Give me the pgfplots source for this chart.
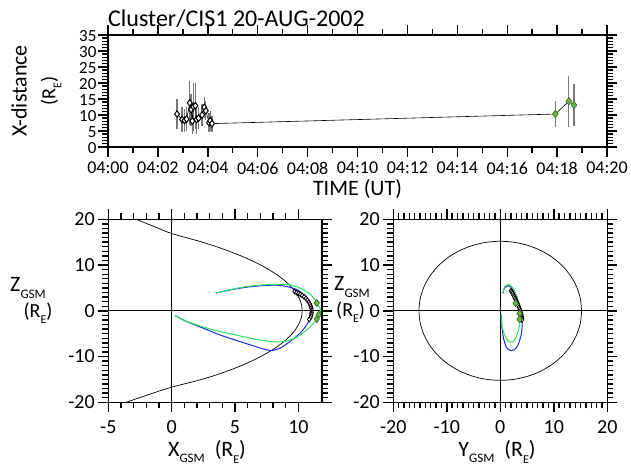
\documentclass[border=0pt]{standalone}
\usepackage{pgfplots}
\pgfplotsset{compat=1.18}
\usepackage{pgfplotstable}
\usepackage{fontspec}
\setmainfont{Carlito}
\definecolor{fblue}{RGB}{25,45,230}
\definecolor{fgreen}{RGB}{40,230,90}
\definecolor{mgreen}{RGB}{105,178,70}
\definecolor{mgreenedge}{RGB}{55,105,35}
\definecolor{ebar}{RGB}{120,120,120}
\newcommand{\gsm}{\raisebox{-0.28em}{\fontsize{13}{13}\selectfont GSM}}
\newcommand{\sE}{\raisebox{-0.3em}{\fontsize{12}{12}\selectfont E}}
\pgfplotsset{
  myax/.style={scale only axis, anchor=south west,
    axis line style={line width=1.6pt},
    tick align=outside,
    every tick/.style={black, line width=1.4pt},
    major tick length=10pt, minor tick length=6pt,
    xtick pos=both, ytick pos=both,
    xticklabel pos=lower, yticklabel pos=left},
}

\pgfplotstableread{
t v e
2.77 10.3 4.7
2.97 8.6 4.0
3.07 8.3 3.5
3.15 8.7 3.8
3.28 13.8 6.8
3.33 11.7 5.0
3.38 8.1 4.0
3.42 12.6 7.5
3.50 12.9 7.2
3.55 8.6 4.5
3.63 9.0 3.5
3.77 10.0 3.5
3.86 12.4 3.2
3.92 11.3 3.0
4.05 7.6 3.0
4.10 8.2 3.2
4.17 7.3 2.5
}\blackpts
\pgfplotstableread{
t v e
17.93 10.3 4.0
18.47 14.3 8.0
18.68 13.1 6.5
}\greenpts
\pgfplotstableread{
t v e
2.77 10.3 4.7
2.97 8.6 4.0
3.07 8.3 3.5
3.15 8.7 3.8
3.28 13.8 6.8
3.33 11.7 5.0
3.38 8.1 4.0
3.42 12.6 7.5
3.50 12.9 7.2
3.55 8.6 4.5
3.63 9.0 3.5
3.77 10.0 3.5
3.86 12.4 3.2
3.92 11.3 3.0
4.05 7.6 3.0
4.10 8.2 3.2
4.17 7.3 2.5
17.93 10.3 4.0
18.47 14.3 8.0
18.68 13.1 6.5
}\allpts

\begin{document}
\begin{tikzpicture}[x=1pt,y=1pt]
\path[use as bounding box] (0,0) rectangle (631,466);
% ---------- top panel ----------
\begin{axis}[myax, at={(108pt,319pt)}, width=499pt, height=112pt,
  xmin=0, xmax=20, ymin=0, ymax=35,
  xtick={0,2,...,20},
  xticklabels={04:00,04:02,04:04,04:06,04:08,04:10,04:12,04:14,04:16,04:18,04:20},
  minor x tick num=1,
  ytick={0,5,...,35}, yticklabels={0,5,10,15,20,25,30,35},
  minor y tick num=4,
  xticklabel style={font=\fontsize{18}{19}\selectfont, yshift=-1.5pt},
  yticklabel style={font=\fontsize{17}{17}\selectfont, yshift=-1pt, xshift=2pt},
]
\addplot[draw=none, mark=none, forget plot,
  error bars/.cd, y dir=both, y explicit, error mark=none,
  error bar style={draw=ebar, line width=1.3pt}]
  table[x=t, y=v, y error=e] {\allpts};
\addplot[black, line width=0.6pt, mark=none] table[x=t, y=v] {\allpts};
\addplot[only marks, mark=diamond*, mark size=3.3pt,
  mark options={fill=white, draw=black, line width=1pt}] table[x=t, y=v] {\blackpts};
\addplot[only marks, mark=diamond*, mark size=3.8pt,
  mark options={fill=mgreen, draw=mgreenedge, line width=0.6pt}] table[x=t, y=v] {\greenpts};
\end{axis}

% ---------- X-Z panel ----------
\begin{axis}[myax, at={(108.3pt,63.7pt)}, width=213.4pt, height=183pt,
  xmin=-5, xmax=11.84, ymin=-20, ymax=20,
  xtick={-5,0,5,10}, xticklabels={-5,0,5,10}, minor x tick num=4,
  ytick={-20,-10,0,10,20}, yticklabels={-20,-10,0,10,20}, minor y tick num=9,
  tick label style={font=\fontsize{20}{22}\selectfont},
  xticklabel style={yshift=-5pt},
]
\addplot[black, line width=0.8pt] coordinates {(-5,0) (11.84,0)};
\addplot[black, line width=0.8pt] coordinates {(0,-20) (0,20)};
\addplot[black, line width=0.7pt, smooth, tension=0.6] coordinates {
(-2.8,20.0) (-1.4,18.45) (0,16.9) (2.62,14.84) (4.68,12.87) (6.33,10.95)
(7.62,9.08) (8.62,7.24) (9.37,5.41) (9.89,3.60) (10.20,1.80) (10.3,0)
(10.20,-1.80) (9.89,-3.60) (9.37,-5.41) (8.62,-7.24) (7.62,-9.08)
(6.33,-10.95) (4.68,-12.87) (2.62,-14.80) (0,-16.7) (-1.8,-18.3) (-3.6,-20.0)};
\addplot[fblue, line width=1pt, smooth] coordinates {
(3.5,3.87) (4.6,4.55) (5.9,5.15) (7.2,5.5) (8.3,5.6) (9.1,5.3) (9.9,4.6)
(10.4,3.6) (10.8,2.4) (11.05,1.0) (11.13,-0.15) (10.95,-1.6) (10.66,-3.07)
(10.13,-4.9) (9.34,-6.72) (8.55,-8.18) (7.9,-8.69) (7.5,-8.54) (6.45,-7.66)
(5.13,-6.5) (3.8,-5.26) (2.5,-3.8) (1.18,-2.34) (0.26,-1.02)};
\addplot[fgreen, line width=1pt, smooth] coordinates {
(3.5,3.87) (4.6,4.6) (5.9,5.3) (7.2,5.65) (8.3,5.8) (9.3,5.7) (10.1,5.0)
(10.8,3.9) (11.3,2.5) (11.6,1.2) (11.75,0.0) (11.65,-1.0) (11.3,-2.4)
(10.7,-4.1) (9.9,-5.7) (9.1,-6.6) (8.3,-6.8) (7.2,-6.5) (5.9,-5.8)
(4.6,-5.0) (3.3,-4.2) (2.0,-3.1) (0.9,-2.0) (0.26,-1.0)};
\addplot[only marks, mark=diamond*, mark size=2.4pt,
  mark options={fill=white, draw=black, line width=0.8pt}] coordinates {
(9.7,4.2) (9.85,4.0) (10.0,3.8) (10.15,3.6) (10.3,3.35) (10.45,3.05)
(10.6,2.7) (10.72,2.3) (10.82,1.9) (10.9,1.5) (10.97,1.05) (11.02,0.6)
(11.05,0.15) (11.05,-0.3) (11.03,-0.7) (11.0,-1.1) (10.95,-1.5) (10.85,-1.9)};
\addplot[only marks, mark=diamond*, mark size=3.6pt,
  mark options={fill=mgreen, draw=mgreenedge, line width=0.6pt}] coordinates {
(11.45,1.7) (11.6,-0.85) (11.45,-1.8)};
\end{axis}

% ---------- Y-Z panel ----------
\begin{axis}[myax, at={(393.3pt,63.7pt)}, width=214pt, height=183pt,
  xmin=-20, xmax=20, ymin=-20, ymax=20,
  xtick={-20,-10,0,10,20}, xticklabels={-20,-10,0,10,20}, minor x tick num=9,
  ytick={-20,-10,0,10,20}, yticklabels={-20,-10,0,10,20}, minor y tick num=9,
  tick label style={font=\fontsize{20}{22}\selectfont},
  xticklabel style={yshift=-5pt},
]
\addplot[black, line width=0.8pt] coordinates {(-20,0) (20,0)};
\addplot[black, line width=0.8pt] coordinates {(0,-20) (0,20)};
\addplot[black, line width=0.7pt, smooth] coordinates {
(15.2,0) (14.97,2.64) (14.28,5.20) (13.16,7.60) (11.64,9.77) (9.77,11.64)
(7.60,13.16) (5.20,14.28) (2.64,14.97) (0,15.2) (-2.64,14.97) (-5.20,14.28)
(-7.60,13.16) (-9.77,11.64) (-11.64,9.77) (-13.16,7.60) (-14.28,5.20)
(-14.97,2.64) (-15.2,0) (-14.97,-2.64) (-14.28,-5.20) (-13.16,-7.60)
(-11.64,-9.77) (-9.77,-11.64) (-7.60,-13.16) (-5.20,-14.28) (-2.64,-14.97)
(0,-15.2) (2.64,-14.97) (5.20,-14.28) (7.60,-13.16) (9.77,-11.64)
(11.64,-9.77) (13.16,-7.60) (14.28,-5.20) (14.97,-2.64) (15.2,0)};
\addplot[fblue, line width=1pt, smooth] coordinates {
(0.5,3.8) (0.8,5.0) (1.5,5.5) (2.3,4.8) (3.0,3.3) (3.6,1.2) (3.95,-1.0)
(4.1,-2.5) (3.95,-5.0) (3.3,-7.5) (2.5,-8.6) (1.75,-8.6) (1.1,-7.9)
(0.6,-6.0) (0.3,-3.5) (0.18,-0.94)};
\addplot[fgreen, line width=1pt, smooth] coordinates {
(0.49,3.8) (0.8,5.26) (1.6,5.77) (2.37,4.9) (2.98,3.43) (3.48,1.61)
(3.73,-0.21) (3.73,-2.04) (3.48,-3.87) (2.98,-5.69) (2.37,-6.8)
(1.74,-6.85) (1.12,-6.0) (0.49,-4.2) (0.18,-2.04) (0.18,-0.94)};
\addplot[only marks, mark=diamond*, mark size=2.4pt,
  mark options={fill=white, draw=black, line width=0.8pt}] coordinates {
(2.0,4.4) (2.15,4.1) (2.3,3.8) (2.45,3.45) (2.6,3.1) (2.75,2.75) (2.9,2.4)
(3.05,2.0) (3.2,1.6) (3.35,1.2) (3.5,0.8) (3.62,0.4) (3.75,0.0) (3.85,-0.4)
(3.95,-0.8) (4.0,-1.2) (4.05,-1.6) (4.05,-2.0)};
\addplot[only marks, mark=diamond*, mark size=3.6pt,
  mark options={fill=mgreen, draw=mgreenedge, line width=0.6pt}] coordinates {
(2.86,1.65) (3.6,-0.6) (3.6,-1.85)};
\end{axis}

% ---------- texts ----------
\node[font=\fontsize{24}{26}\selectfont, anchor=base west, inner sep=0pt] at (108,439) {Cluster/CIS1 20-AUG-2002};
\node[font=\fontsize{22}{24}\selectfont, rotate=90, inner sep=0pt] at (19,375) {X-distance};
\node[font=\fontsize{20}{22}\selectfont, rotate=90, inner sep=0pt] at (51,375) {(R\sE)};
\node[font=\fontsize{22}{24}\selectfont, inner sep=0pt] at (357.5,277) {TIME (UT)};
\node[font=\fontsize{22}{24}\selectfont, inner sep=0pt] at (28,178) {Z\gsm};
\node[font=\fontsize{20}{22}\selectfont, inner sep=0pt] at (38,153) {(R\sE)};
\node[font=\fontsize{22}{24}\selectfont, inner sep=0pt, anchor=west] at (334,179) {Z\gsm};
\node[font=\fontsize{20}{22}\selectfont, inner sep=0pt, anchor=west] at (336,154) {(R\sE)};
\node[font=\fontsize{22}{24}\selectfont, inner sep=0pt] at (207,14) {X\gsm\ \ (R\sE)};
\node[font=\fontsize{22}{24}\selectfont, inner sep=0pt] at (497,14) {Y\gsm\ \ (R\sE)};
\end{tikzpicture}
\end{document}
